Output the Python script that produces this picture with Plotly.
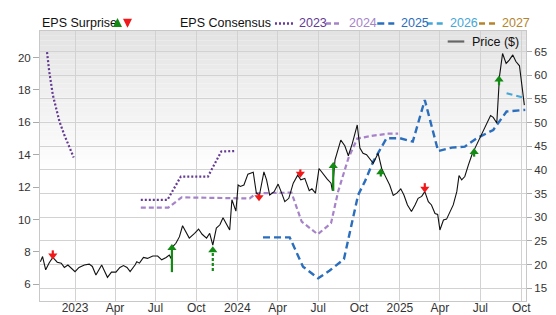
import plotly.graph_objects as go

# ---------------- data ----------------
price_dates = [
    "2022-10-15", "2022-10-20", "2022-10-27", "2022-11-04", "2022-11-12", "2022-11-22", "2022-12-01",
    "2022-12-08", "2022-12-16", "2022-12-23", "2023-01-01", "2023-01-10", "2023-01-22", "2023-02-02",
    "2023-02-09", "2023-02-17", "2023-03-02", "2023-03-08", "2023-03-15", "2023-03-24", "2023-04-03",
    "2023-04-12", "2023-04-20", "2023-04-28", "2023-05-05", "2023-05-16", "2023-05-20", "2023-05-26",
    "2023-06-04", "2023-06-13", "2023-06-25", "2023-07-06", "2023-07-15", "2023-07-25", "2023-08-01",
    "2023-08-05", "2023-08-09", "2023-08-16", "2023-08-24", "2023-08-31", "2023-09-08", "2023-09-15",
    "2023-09-27", "2023-10-06", "2023-10-14", "2023-10-24", "2023-10-31", "2023-11-07", "2023-11-15",
    "2023-11-23", "2023-11-30", "2023-12-08", "2023-12-15", "2023-12-20", "2023-12-29", "2024-01-03",
    "2024-01-08", "2024-01-16", "2024-01-25", "2024-02-06", "2024-02-13", "2024-02-20", "2024-03-01",
    "2024-03-07", "2024-03-14", "2024-03-24", "2024-04-02", "2024-04-10", "2024-04-17", "2024-04-26",
    "2024-05-06", "2024-05-16", "2024-05-23", "2024-06-01", "2024-06-11", "2024-06-17", "2024-06-25",
    "2024-07-03", "2024-07-12", "2024-07-21", "2024-07-30", "2024-08-02", "2024-08-08", "2024-08-21",
    "2024-08-30", "2024-09-07", "2024-09-16", "2024-09-27", "2024-10-03", "2024-10-10", "2024-10-18",
    "2024-10-25", "2024-11-02", "2024-11-13", "2024-11-21", "2024-11-28", "2024-12-09", "2024-12-17",
    "2024-12-25", "2025-01-03", "2025-01-10", "2025-01-18", "2025-01-27", "2025-02-04", "2025-02-11",
    "2025-02-19", "2025-02-26", "2025-03-06", "2025-03-13", "2025-03-21", "2025-03-27", "2025-04-01",
    "2025-04-09", "2025-04-16", "2025-04-24", "2025-05-01", "2025-05-09", "2025-05-14", "2025-05-20",
    "2025-05-27", "2025-06-04", "2025-06-12", "2025-06-19", "2025-06-26", "2025-07-04", "2025-07-12",
    "2025-07-17", "2025-07-24", "2025-07-30", "2025-08-07", "2025-08-13", "2025-08-20", "2025-08-28",
    "2025-09-04", "2025-09-12", "2025-09-19", "2025-09-27", "2025-10-02", "2025-10-08",
]
price_values = [
    20.6, 21.7, 18.9, 20.4, 21.5, 20.5, 20.3,
    19.4, 19.9, 19.2, 18.5, 19.4, 19.9, 20.1,
    19.6, 17.8, 19.9, 18.7, 17.3, 18.4, 18.4,
    19.4, 19.8, 19.4, 18.5, 19.9, 20.6, 20.3,
    21.5, 21.3, 21.8, 21.8, 21.0, 21.5, 22.0,
    21.3, 23.8, 24.5, 25.9, 28.2, 26.8, 25.6,
    26.6, 27.5, 26.4, 25.6, 26.6, 24.1, 27.7,
    28.4, 29.9, 28.4, 27.3, 33.7, 31.3, 36.8,
    36.5, 36.8, 39.1, 39.5, 35.1, 34.7, 39.6,
    37.9, 34.7, 35.4, 37.0, 35.1, 33.3, 34.0,
    37.2, 38.9, 37.9, 38.2, 35.6, 36.0, 35.1,
    40.3, 39.1, 38.1, 37.2, 35.6, 42.1, 46.3,
    45.1, 43.0, 45.6, 49.5, 44.6, 43.5, 43.2,
    42.3, 41.4, 43.5, 40.3, 38.9, 36.8, 34.6,
    35.1, 36.0, 34.7, 32.6, 31.2, 32.6, 34.0,
    34.4, 35.4, 33.3, 32.6, 30.8, 30.6, 27.3,
    29.4, 29.6, 31.3, 32.6, 35.4, 38.8, 37.9,
    38.6, 41.0, 43.2, 44.6, 46.0, 47.4, 49.2,
    49.9, 51.5, 51.1, 49.9, 59.7, 64.6, 62.5,
    63.2, 64.3, 62.9, 62.0, 58.7, 53.7,
]

eps_2023_dates = ["2022-10-30", "2022-11-04", "2022-11-12", "2022-11-19", "2022-11-27", "2022-12-08",
                  "2022-12-19", "2022-12-29", "2023-03-15", "2023-05-29", "2023-07-28", "2023-08-27",
                  "2023-10-27", "2023-11-26", "2023-12-26"]
eps_2023_values = [20.33, 19.14, 17.7, 16.87, 16.05, 15.22, 14.5, 13.83, None, 11.21, 11.21, 12.65,
                   12.65, 14.2, 14.23]

eps_2024_dates = ["2023-05-29", "2023-07-30", "2023-08-29", "2024-01-29", "2024-02-13", "2024-05-02",
                  "2024-05-25", "2024-06-30", "2024-07-30", "2024-08-15", "2024-09-07", "2024-09-27",
                  "2024-11-02", "2024-12-06", "2024-12-28"]
eps_2024_values = [10.74, 10.74, 11.37, 11.3, 11.62, 11.66, 9.87, 9.09, 9.77, 11.73, 13.78, 15.0,
                   15.18, 15.3, 15.3]

eps_2025_dates = ["2024-02-28", "2024-04-28", "2024-05-28", "2024-07-01", "2024-07-27", "2024-08-28",
                  "2024-09-14", "2024-09-29", "2024-10-14", "2024-11-02", "2024-12-02", "2025-01-01",
                  "2025-01-30", "2025-02-26", "2025-03-28", "2025-04-28", "2025-05-27", "2025-06-23",
                  "2025-07-30", "2025-08-29", "2025-10-10"]
eps_2025_values = [8.9, 8.9, 7.09, 6.37, 6.85, 7.55, 9.66, 11.52, 12.34, 13.58, 15.02, 15.02,
                   14.81, 17.38, 14.23, 14.44, 14.5, 15.02, 15.53, 16.67, 16.77]

eps_2026_dates = ["2025-08-29", "2025-10-10"]
eps_2026_values = [17.8, 17.5]

eps_2027_dates = []
eps_2027_values = []

surprise_dates = ["2022-11-12", "2023-08-07", "2023-11-07", "2024-02-19", "2024-05-22",
                  "2024-08-04", "2024-11-19", "2025-02-26", "2025-06-17", "2025-08-12"]
surprise_head = [21.9, 23.5, 23.0, 34.2, 39.2, 40.8, 39.5, 36.0, 43.8, 59.1]
surprise_tail = [23.0, 18.4, 18.65, 34.9, 40.1, 35.55, 38.6, 37.2, 42.8, 57.9]
surprise_dir = ["down", "up", "up", "down", "down", "up", "up", "down", "up", "up"]
surprise_dashed = [False, False, True, False, False, False, False, False, False, False]

x_tickvals = ["2023-01-01", "2023-04-01", "2023-07-01", "2023-10-01", "2024-01-01", "2024-04-01",
              "2024-07-01", "2024-10-01", "2025-01-01", "2025-04-01", "2025-07-01", "2025-10-01"]
x_ticktext = ["2023", "Apr", "Jul", "Oct", "2024", "Apr", "Jul", "Oct", "2025", "Apr", "Jul", "Oct"]

series_names = ["2023", "2024", "2025", "2026", "2027"]

# ---------------- styles ----------------
FONT = "Liberation Sans"
TXT = "#333333"
GRID = "#d2d2d2"
GREEN = "#138a13"
RED = "#f01818"
series_styles = {
    "2023": dict(color="#643a92", dash="2px,2px", width=2.2),
    "2024": dict(color="#a683c8", dash="5px,3px", width=2.2),
    "2025": dict(color="#2a6ebd", dash="7px,4px", width=2.4),
    "2026": dict(color="#45a6d8", dash="6px,4px", width=2.2),
    "2027": dict(color="#b5842c", dash="6px,4px", width=2.2),
}
series_data = {
    "2023": (eps_2023_dates, eps_2023_values),
    "2024": (eps_2024_dates, eps_2024_values),
    "2025": (eps_2025_dates, eps_2025_values),
    "2026": (eps_2026_dates, eps_2026_values),
    "2027": (eps_2027_dates, eps_2027_values),
}

fig = go.Figure()

for name in series_names:
    d, v = series_data[name]
    st = series_styles[name]
    fig.add_trace(go.Scatter(x=d, y=v, mode="lines", name=name, yaxis="y",
                             line=dict(color=st["color"], dash=st["dash"], width=st["width"]),
                             connectgaps=False, showlegend=False, hoverinfo="skip"))

fig.add_trace(go.Scatter(x=price_dates, y=price_values, mode="lines", name="Price ($)", yaxis="y2",
                         line=dict(color="#111111", width=1.1), showlegend=False))

# surprise arrows: shafts grouped by style, heads as triangle markers
groups = [("up", False, GREEN, "solid"), ("up", True, GREEN, "3px,2px"), ("down", False, RED, "solid")]
for direction, dashed, color, dash in groups:
    xs, ys, hx, hy = [], [], [], []
    for d, h, t, dr, ds in zip(surprise_dates, surprise_head, surprise_tail, surprise_dir, surprise_dashed):
        if dr == direction and ds == dashed:
            xs += [d, d, None]
            ys += [t, h, None]
            hx.append(d)
            hy.append(h)
    if not hx:
        continue
    fig.add_trace(go.Scatter(x=xs, y=ys, mode="lines", yaxis="y2", showlegend=False, hoverinfo="skip",
                             line=dict(color=color, width=2.2, dash=dash)))
    fig.add_trace(go.Scatter(x=hx, y=hy, mode="markers", yaxis="y2", showlegend=False, hoverinfo="skip",
                             marker=dict(symbol="triangle-up" if direction == "up" else "triangle-down",
                                         size=8, color=color, line=dict(width=0))))

# background gradient (top grey -> white)
shapes = []
n = 30
top_c, bottom_y = 227, 0.47
for i in range(n):
    y1 = 1 - (1 - bottom_y) * i / n
    y0 = 1 - (1 - bottom_y) * (i + 1) / n
    c = int(round(top_c + (255 - top_c) * (i + 0.5) / n))
    shapes.append(dict(type="rect", xref="paper", yref="paper", x0=0, x1=1, y0=y0, y1=y1,
                       fillcolor=f"rgb({c},{c},{c})", line=dict(width=0), layer="below"))

# manual legend
annotations = []
leg_y = 1.0296
annotations.append(dict(xref="paper", yref="paper", x=0.0, y=leg_y, xanchor="left", yanchor="middle",
                        text="EPS Surprise", showarrow=False, font=dict(family=FONT, size=12.5, color="#111")))
annotations.append(dict(xref="paper", yref="paper", x=0.1595, y=1.048, ax=0, ay=10, showarrow=True,
                        arrowhead=2, arrowsize=0.9, arrowwidth=2, arrowcolor=GREEN, text=""))
annotations.append(dict(xref="paper", yref="paper", x=0.1800, y=1.012, ax=0, ay=-10, showarrow=True,
                        arrowhead=2, arrowsize=0.9, arrowwidth=2, arrowcolor=RED, text=""))
annotations.append(dict(xref="paper", yref="paper", x=0.2833, y=leg_y, xanchor="left", yanchor="middle",
                        text="EPS Consensus", showarrow=False, font=dict(family=FONT, size=12.5, color="#111")))
legend_pos = {"2023": (0.4835, 0.5206, 0.5288), "2024": (0.5885, 0.6214, 0.6323),
              "2025": (0.6940, 0.7290, 0.7381), "2026": (0.7957, 0.8298, 0.8395),
              "2027": (0.9033, 0.9403, 0.9465)}
for name in series_names:
    x0, x1, xt = legend_pos[name]
    st = series_styles[name]
    shapes.append(dict(type="line", xref="paper", yref="paper", x0=x0, x1=x1, y0=1.0278, y1=1.0278,
                       line=dict(color=st["color"], width=2.4, dash=st["dash"])))
    annotations.append(dict(xref="paper", yref="paper", x=xt, y=leg_y, xanchor="left", yanchor="middle",
                            text=name, showarrow=False, font=dict(family=FONT, size=12.5, color=st["color"])))
shapes.append(dict(type="line", xref="paper", yref="paper", x0=0.8389, x1=0.8730, y0=0.9611, y1=0.9611,
                   line=dict(color="#666666", width=2.2)))
annotations.append(dict(xref="paper", yref="paper", x=0.8848, y=0.9611, xanchor="left", yanchor="middle",
                        text="Price ($)", showarrow=False, font=dict(family=FONT, size=12.5, color="#111")))

fig.update_layout(
    width=556, height=315,
    margin=dict(l=40, r=30, t=31, b=14, pad=0, autoexpand=False),
    paper_bgcolor="white", plot_bgcolor="white",
    font=dict(family=FONT, size=12, color=TXT),
    showlegend=False,
    shapes=shapes, annotations=annotations,
    xaxis=dict(range=["2022-10-14 05:00", "2025-10-11 17:00"], tickvals=x_tickvals, ticktext=x_ticktext,
               showgrid=True, gridcolor=GRID, gridwidth=1, ticks="", showline=True, linecolor="#c8c8c8",
               mirror=True, zeroline=False, automargin=False, ticklabelstandoff=-4,
               tickfont=dict(size=12, color=TXT)),
    yaxis=dict(range=[4.97, 21.64], tickvals=[6, 8, 10, 12, 14, 16, 18, 20], showgrid=False,
               ticks="outside", ticklen=6, tickcolor="#aaaaaa", showline=True, linecolor="#c8c8c8",
               zeroline=False, automargin=False, tickfont=dict(size=11.5, color=TXT)),
    yaxis2=dict(range=[12.3, 69.35], overlaying="y", side="right", tick0=15, dtick=5,
                showgrid=True, gridcolor=GRID, gridwidth=1, ticks="outside", ticklen=5,
                tickcolor="#aaaaaa", showline=True, linecolor="#c8c8c8", zeroline=False,
                automargin=False, tickfont=dict(size=11.5, color=TXT)),
)

fig.write_html("out.html")
